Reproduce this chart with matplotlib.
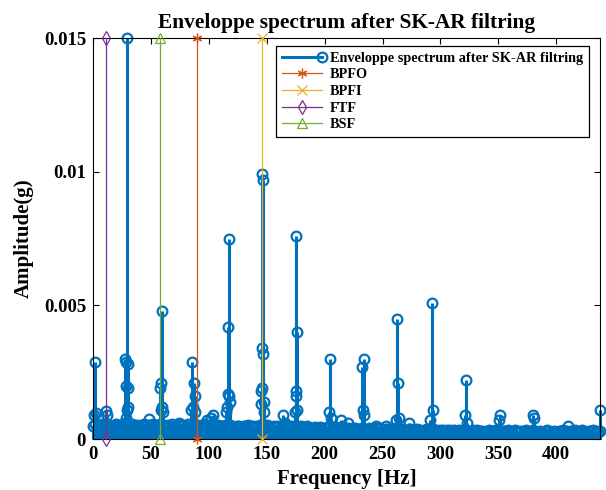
import numpy as np
import matplotlib
matplotlib.use("Agg")
import matplotlib.pyplot as plt
from matplotlib.lines import Line2D
from matplotlib.legend_handler import HandlerLine2D

# characteristic bearing frequencies [Hz]
FTF = 11.2
BSF = 57.8
BPFO = 89.7
BPFI = 145.7
MARK_LEVEL = 0.015

# noise floor of the envelope spectrum, one value every 2 Hz from 0 Hz
floor_step = 2.0
floor_amp = [
    0.00050, 0.00056, 0.00048, 0.00052, 0.00058, 0.00050, 0.00046, 0.00054, 0.00049, 0.00053,
    0.00057, 0.00051, 0.00047, 0.00055, 0.00060, 0.00052, 0.00049, 0.00056, 0.00050, 0.00054,
    0.00048, 0.00053, 0.00058, 0.00050, 0.00046, 0.00052, 0.00055, 0.00049, 0.00053, 0.00057,
    0.00051, 0.00047, 0.00053, 0.00049, 0.00055, 0.00050, 0.00046, 0.00052, 0.00048, 0.00054,
    0.00050, 0.00056, 0.00049, 0.00053, 0.00058, 0.00051, 0.00047, 0.00052, 0.00055, 0.00049,
    0.00053, 0.00048, 0.00051, 0.00047, 0.00054, 0.00050, 0.00046, 0.00052, 0.00049, 0.00053,
    0.00048, 0.00045, 0.00050, 0.00047, 0.00043, 0.00049, 0.00046, 0.00051, 0.00044, 0.00048,
    0.00046, 0.00050, 0.00053, 0.00049, 0.00045, 0.00051, 0.00047, 0.00043, 0.00048, 0.00046,
    0.00050, 0.00044, 0.00047, 0.00051, 0.00046, 0.00042, 0.00048, 0.00050, 0.00045, 0.00043,
    0.00047, 0.00044, 0.00041, 0.00046, 0.00043, 0.00040, 0.00045, 0.00042, 0.00044, 0.00039,
    0.00043, 0.00046, 0.00041, 0.00038, 0.00044, 0.00040, 0.00042, 0.00045, 0.00039, 0.00037,
    0.00041, 0.00038, 0.00043, 0.00040, 0.00036, 0.00039, 0.00042, 0.00038, 0.00035, 0.00040,
    0.00039, 0.00036, 0.00041, 0.00038, 0.00040, 0.00035, 0.00037, 0.00039, 0.00036, 0.00034,
    0.00038, 0.00041, 0.00036, 0.00033, 0.00037, 0.00035, 0.00032, 0.00036, 0.00034, 0.00031,
    0.00036, 0.00033, 0.00031, 0.00035, 0.00038, 0.00034, 0.00032, 0.00036, 0.00033, 0.00030,
    0.00035, 0.00033, 0.00030, 0.00034, 0.00032, 0.00029, 0.00033, 0.00031, 0.00034, 0.00030,
    0.00032, 0.00035, 0.00031, 0.00028, 0.00032, 0.00030, 0.00033, 0.00029, 0.00031, 0.00028,
    0.00030, 0.00032, 0.00029, 0.00031, 0.00033, 0.00030, 0.00027, 0.00031, 0.00029, 0.00032,
    0.00028, 0.00030, 0.00033, 0.00029, 0.00027, 0.00031, 0.00029, 0.00032, 0.00028, 0.00030,
    0.00033, 0.00029, 0.00027, 0.00031, 0.00028, 0.00030, 0.00032, 0.00029, 0.00026, 0.00030,
    0.00028, 0.00031, 0.00029, 0.00033, 0.00030, 0.00027, 0.00031, 0.00029, 0.00032, 0.00028,
    0.00030, 0.00033, 0.00029, 0.00027, 0.00031, 0.00029, 0.00032, 0.00030, 0.00028, 0.00031,
]

# harmonic peaks
peak_freq = [
    1.2, 1.7, 2.2, 11.0, 12.0,
    27.6, 28.3, 28.6, 28.9, 29.1, 29.4, 29.9, 30.3, 30.6,
    48.0, 57.6, 58.4, 58.9, 59.2, 59.8, 60.4, 74.0,
    85.0, 85.6, 86.6, 87.4, 87.8, 88.4, 98.0, 101.5, 104.0,
    114.6, 115.5, 116.2, 116.8, 117.2, 117.8, 118.4, 131.0, 136.0,
    144.8, 145.4, 145.8, 146.0, 146.3, 146.6, 146.9, 147.3, 147.8,
    164.0, 166.0, 174.6, 175.0, 175.3, 175.6, 175.9, 176.4, 185.0,
    203.5, 204.6, 205.4, 214.0, 220.0,
    232.4, 233.0, 233.6, 234.2, 244.0, 253.0,
    261.5, 262.6, 263.6, 264.2, 273.0,
    290.6, 292.4, 293.6, 321.2, 322.4, 323.0,
    350.6, 351.2, 380.2, 380.8, 409.8, 437.5,
]
peak_amp = [
    0.0009, 0.0029, 0.00097, 0.00105, 0.0009,
    0.0030, 0.0029, 0.0008, 0.0020, 0.0011, 0.0150, 0.0028, 0.0019, 0.0012,
    0.00075, 0.0019, 0.0021, 0.0011, 0.0048, 0.0012, 0.0010, 0.0006,
    0.0011, 0.0029, 0.0012, 0.0021, 0.0016, 0.0010, 0.0007, 0.0008, 0.0009,
    0.0010, 0.0012, 0.0017, 0.0042, 0.0075, 0.0016, 0.0014, 0.0005, 0.0005,
    0.0013, 0.0018, 0.0019, 0.0034, 0.0099, 0.0097, 0.0032, 0.0014, 0.0010,
    0.0009, 0.0006, 0.0010, 0.0016, 0.0018, 0.0076, 0.0040, 0.0011, 0.0005,
    0.0010, 0.0030, 0.0008, 0.0007, 0.0006,
    0.0027, 0.0011, 0.0030, 0.0009, 0.0005, 0.0005,
    0.0007, 0.0045, 0.0021, 0.0008, 0.0006,
    0.0007, 0.0051, 0.0011, 0.0009, 0.0022, 0.0006,
    0.0007, 0.0009, 0.0009, 0.0008, 0.0005, 0.0011,
]

x_ticks = [0, 50, 100, 150, 200, 250, 300, 350, 400]
y_ticks = [0, 0.005, 0.01, 0.015]
y_tick_labels = ["0", "0.005", "0.01", "0.015"]

BLUE = "#0072BD"
FONT = "Liberation Serif"

plt.rcParams["font.family"] = FONT
plt.rcParams["font.weight"] = "bold"


class StemLegendHandler(HandlerLine2D):
    # MATLAB-like stem legend: line with the marker only at its right end
    def create_artists(self, legend, orig_handle, xdescent, ydescent,
                       width, height, fontsize, trans):
        artists = super().create_artists(legend, orig_handle, xdescent, ydescent,
                                         width, height, fontsize, trans)
        line = artists[0]
        line.set_markevery([len(line.get_xdata()) - 1])
        return artists


fig = plt.figure(figsize=(6.06, 4.90), dpi=100)
ax = fig.add_axes([0.1535, 0.104, 0.837, 0.818])

floor_freq = np.arange(len(floor_amp)) * floor_step
freq = np.concatenate([floor_freq, peak_freq])
amp = np.concatenate([floor_amp, peak_amp])
order = np.argsort(freq)
freq, amp = freq[order], amp[order]

markers, stems, base = ax.stem(freq, amp, basefmt=" ")
stems.set_color(BLUE)
stems.set_linewidth(2.2)
stems.set_clip_on(False)
markers.set_markerfacecolor("none")
markers.set_markeredgecolor(BLUE)
markers.set_markersize(7)
markers.set_markeredgewidth(1.6)
markers.set_clip_on(False)

char_lines = [
    ("BPFO", BPFO, "#D95319", (6, 2, 0)),
    ("BPFI", BPFI, "#EDB120", "x"),
    ("FTF", FTF, "#7E2F8E", "d"),
    ("BSF", BSF, "#77AC30", "^"),
]
handles = []
for name, f, col, mk in char_lines:
    ax.plot([f, f], [0, MARK_LEVEL], color=col, lw=0.9, marker=mk, ms=7,
            mfc="none", mec=col, mew=0.9, clip_on=False, zorder=3)
    handles.append(Line2D([], [], color=col, lw=0.9, marker=mk, ms=7,
                          mfc="none", mec=col, mew=0.9, label=name))

env_handle = Line2D([], [], color=BLUE, lw=2.2, marker="o", ms=7, mfc="none",
                    mec=BLUE, mew=1.6,
                    label="Enveloppe spectrum after SK-AR filtring")

leg = ax.legend([env_handle] + handles,
                [env_handle.get_label()] + [h.get_label() for h in handles],
                loc="upper right", bbox_to_anchor=(0.972, 0.906),
                bbox_transform=fig.transFigure, borderaxespad=0,
                fancybox=False, framealpha=1, edgecolor="black",
                fontsize=10.3, handlelength=2.8, borderpad=0.4,
                labelspacing=0.25, handletextpad=0.6,
                handler_map={env_handle: StemLegendHandler(numpoints=2, marker_pad=0)})
leg.get_frame().set_linewidth(0.9)

ax.set_xlim(0, 438)
ax.set_ylim(0, 0.015)
ax.set_xticks(x_ticks)
ax.set_yticks(y_ticks)
ax.set_yticklabels(y_tick_labels)
ax.tick_params(direction="in", top=True, right=True, length=4, width=0.8,
               labelsize=13.5, pad=5)
for lbl in ax.get_xticklabels() + ax.get_yticklabels():
    lbl.set_fontweight("bold")
for sp in ax.spines.values():
    sp.set_linewidth(0.8)

ax.set_title("Enveloppe spectrum after SK-AR filtring", fontsize=15.4,
             fontweight="bold", pad=7)
ax.set_xlabel("Frequency [Hz]", fontsize=15, fontweight="bold", labelpad=4)
ax.set_ylabel("Amplitude(g)", fontsize=15, fontweight="bold", labelpad=7)

fig.savefig("out.png", dpi=100)
